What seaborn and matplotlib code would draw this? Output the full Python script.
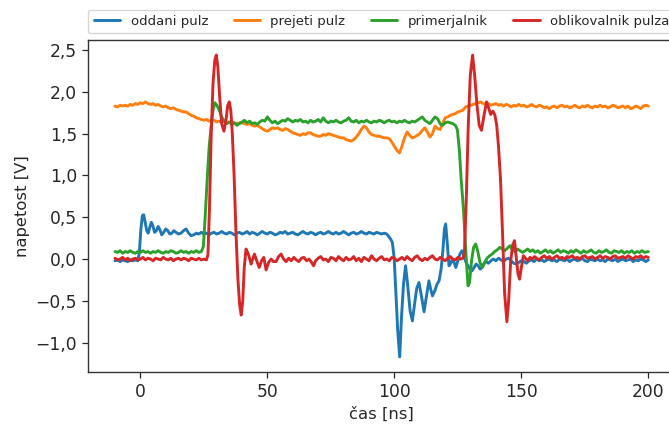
import matplotlib
matplotlib.use("Agg")
import matplotlib.pyplot as plt
import matplotlib.ticker as mticker
import pandas as pd
import seaborn as sns

# Oscilloscope traces: (time [ns], voltage [V])
oddani_pulz = [
    (-10, -0.02), (-9, -0.01), (-8, -0.03), (-7, -0.01), (-6, -0.02), (-5, -0.03), (-4, -0.01), (-3, -0.02), (-2, -0.01), (-1, -0.02),
    (-0.4, 0.08), (0.2, 0.36), (0.8, 0.52), (1.3, 0.53), (1.9, 0.44), (2.5, 0.34), (3.1, 0.31), (3.7, 0.38), (4.3, 0.44), (4.9, 0.40),
    (5.6, 0.32), (6.3, 0.34), (7.0, 0.39), (7.7, 0.35), (8.4, 0.29), (9.2, 0.32), (10.0, 0.36), (10.8, 0.34), (11.6, 0.30), (12.4, 0.31),
    (13.2, 0.34), (14, 0.32), (15, 0.30), (16, 0.31), (17, 0.34), (18, 0.36), (19, 0.31), (20, 0.28), (21, 0.29), (22, 0.31),
    (23, 0.30), (24, 0.32), (25, 0.30), (26, 0.31), (27, 0.29), (28, 0.31), (29, 0.32), (30, 0.30), (31, 0.31), (32, 0.33),
    (33, 0.31), (34, 0.30), (35, 0.32), (36, 0.31), (37, 0.29), (38, 0.31), (39, 0.32), (40, 0.30), (41, 0.31), (42, 0.33),
    (43, 0.30), (44, 0.32), (45, 0.31), (46, 0.29), (47, 0.31), (48, 0.33), (49, 0.31), (50, 0.30), (51, 0.32), (52, 0.31),
    (53, 0.29), (54, 0.30), (55, 0.32), (56, 0.31), (57, 0.33), (58, 0.30), (59, 0.31), (60, 0.32), (61, 0.30), (62, 0.29),
    (63, 0.31), (64, 0.33), (65, 0.31), (66, 0.30), (67, 0.32), (68, 0.31), (69, 0.29), (70, 0.31), (71, 0.32), (72, 0.30),
    (73, 0.31), (74, 0.33), (75, 0.31), (76, 0.30), (77, 0.32), (78, 0.30), (79, 0.31), (80, 0.33), (81, 0.31), (82, 0.29),
    (83, 0.31), (84, 0.32), (85, 0.30), (86, 0.31), (87, 0.33), (88, 0.31), (89, 0.30), (90, 0.32), (91, 0.31), (92, 0.30),
    (93, 0.32), (94, 0.31), (95, 0.30), (96, 0.31), (97, 0.30), (97.8, 0.27), (98.5, 0.24), (99.2, 0.20), (99.9, 0.02),
    (100.6, -0.40), (101.3, -0.85), (102.1, -1.17), (102.8, -0.70), (103.6, -0.30), (104.4, -0.08), (105.2, -0.30), (106.2, -0.62), (107.1, -0.74), (107.9, -0.55),
    (108.8, -0.35), (109.7, -0.28), (110.7, -0.45), (111.7, -0.63), (112.6, -0.45), (113.6, -0.26), (114.3, -0.36), (115.0, -0.44), (115.9, -0.38), (116.8, -0.30),
    (117.6, -0.26), (118.4, -0.12), (119.1, 0.10), (119.7, 0.36), (120.2, 0.42), (120.8, 0.20), (121.5, -0.08), (122.2, -0.05), (122.8, 0.00), (123.5, -0.04),
    (124.2, -0.10), (125.0, -0.02), (125.8, 0.06), (126.6, 0.10), (127.4, 0.04), (128.2, -0.04), (129.0, -0.08), (129.8, -0.12), (130.6, -0.14), (131.4, -0.10),
    (132.2, -0.06), (133.0, -0.08), (133.8, -0.12), (134.6, -0.10), (135.4, -0.05), (136.2, -0.03), (137, -0.05), (138, -0.02), (139, 0.00), (140, -0.02),
    (141, 0.01), (142, -0.01), (143, -0.03), (144, 0.00), (145, 0.01), (146, -0.02), (147, -0.05), (148, -0.06), (149, -0.04), (150, -0.02),
    (151, -0.03), (152, -0.05), (153, -0.02), (154, -0.01), (155, -0.03), (156, 0.00), (157, -0.02), (158, -0.01), (159, -0.03), (160, -0.01),
    (161, 0.00), (162, -0.02), (163, -0.01), (164, -0.03), (165, 0.00), (166, -0.01), (167, -0.02), (168, 0.00), (169, -0.03), (170, -0.01),
    (171, 0.00), (172, -0.02), (173, -0.01), (174, 0.01), (175, -0.02), (176, -0.03), (177, 0.00), (178, -0.01), (179, -0.02), (180, 0.00),
    (181, -0.02), (182, -0.01), (183, -0.03), (184, 0.00), (185, -0.01), (186, -0.02), (187, 0.00), (188, -0.03), (189, -0.01), (190, 0.00),
    (191, -0.02), (192, -0.01), (193, 0.00), (194, -0.03), (195, -0.01), (196, -0.02), (197, 0.00), (198, -0.01), (199, -0.03), (200, -0.01),
]

prejeti_pulz = [
    (-10, 1.83), (-9, 1.82), (-8, 1.84), (-7, 1.83), (-6, 1.84), (-5, 1.83), (-4, 1.85), (-3, 1.84), (-2, 1.86), (-1, 1.85),
    (0, 1.87), (1, 1.86), (2, 1.88), (3, 1.86), (4, 1.85), (5, 1.86), (6, 1.84), (7, 1.85), (8, 1.83), (9, 1.82),
    (10, 1.83), (11, 1.81), (12, 1.80), (13, 1.81), (14, 1.79), (15, 1.78), (16, 1.77), (17, 1.76), (18, 1.76), (19, 1.74),
    (20, 1.72), (21, 1.71), (22, 1.69), (23, 1.68), (24, 1.67), (25, 1.66), (26, 1.67), (27, 1.65), (28, 1.66), (29, 1.66),
    (30, 1.64), (31, 1.65), (32, 1.64), (33, 1.65), (34, 1.63), (35, 1.64), (36, 1.64), (37, 1.63), (38, 1.62), (39, 1.63),
    (40, 1.63), (41, 1.62), (42, 1.61), (43, 1.62), (44, 1.60), (45, 1.59), (46, 1.60), (47, 1.58), (48, 1.56), (49, 1.54),
    (50, 1.53), (51, 1.55), (52, 1.57), (53, 1.56), (54, 1.57), (55, 1.55), (56, 1.54), (57, 1.56), (58, 1.55), (59, 1.53),
    (60, 1.51), (61, 1.50), (62, 1.49), (63, 1.48), (64, 1.50), (65, 1.49), (66, 1.51), (67, 1.51), (68, 1.49), (69, 1.48),
    (70, 1.47), (71, 1.47), (72, 1.49), (73, 1.48), (74, 1.50), (75, 1.49), (76, 1.48), (77, 1.47), (78, 1.46), (79, 1.45),
    (80, 1.45), (81, 1.43), (82, 1.42), (83, 1.41), (84, 1.43), (85, 1.46), (86, 1.50), (87, 1.55), (88, 1.59), (89, 1.57),
    (90, 1.52), (91, 1.49), (92, 1.48), (93, 1.47), (94, 1.47), (95, 1.46), (96, 1.45), (97, 1.45), (98, 1.44), (99, 1.40),
    (100, 1.35), (101, 1.30), (102, 1.27), (103, 1.35), (104, 1.45), (105, 1.52), (106, 1.48), (107, 1.45), (108, 1.46), (109, 1.48),
    (110, 1.50), (111, 1.54), (112, 1.57), (113, 1.52), (114, 1.46), (115, 1.50), (116, 1.59), (117, 1.56), (118, 1.55), (119, 1.62),
    (120, 1.69), (121, 1.70), (122, 1.72), (123, 1.73), (124, 1.74), (125, 1.76), (126, 1.77), (127, 1.78), (128, 1.82), (129, 1.83),
    (130, 1.84), (131, 1.85), (132, 1.86), (133, 1.87), (134, 1.88), (135, 1.86), (136, 1.85), (137, 1.86), (138, 1.84), (139, 1.85),
    (140, 1.86), (141, 1.84), (142, 1.85), (143, 1.83), (144, 1.85), (145, 1.84), (146, 1.82), (147, 1.84), (148, 1.83), (149, 1.85),
    (150, 1.83), (151, 1.84), (152, 1.82), (153, 1.83), (154, 1.85), (155, 1.83), (156, 1.82), (157, 1.84), (158, 1.83), (159, 1.81),
    (160, 1.82), (161, 1.80), (162, 1.82), (163, 1.83), (164, 1.81), (165, 1.83), (166, 1.84), (167, 1.82), (168, 1.83), (169, 1.81),
    (170, 1.82), (171, 1.84), (172, 1.82), (173, 1.81), (174, 1.83), (175, 1.82), (176, 1.84), (177, 1.82), (178, 1.81), (179, 1.83),
    (180, 1.82), (181, 1.84), (182, 1.82), (183, 1.83), (184, 1.81), (185, 1.82), (186, 1.84), (187, 1.83), (188, 1.81), (189, 1.82),
    (190, 1.83), (191, 1.81), (192, 1.83), (193, 1.80), (194, 1.81), (195, 1.83), (196, 1.82), (197, 1.80), (198, 1.83), (199, 1.84),
    (200, 1.83),
]

primerjalnik = [
    (-10, 0.09), (-9, 0.08), (-8, 0.10), (-7, 0.07), (-6, 0.09), (-5, 0.08), (-4, 0.10), (-3, 0.08), (-2, 0.07), (-1, 0.09),
    (0, 0.08), (1, 0.10), (2, 0.08), (3, 0.09), (4, 0.07), (5, 0.09), (6, 0.08), (7, 0.10), (8, 0.08), (9, 0.07),
    (10, 0.09), (11, 0.08), (12, 0.10), (13, 0.09), (14, 0.07), (15, 0.08), (16, 0.10), (17, 0.08), (18, 0.09), (19, 0.07),
    (20, 0.09), (21, 0.08), (22, 0.10), (23, 0.08), (24, 0.09),
    (24.8, 0.15), (25.5, 0.50), (26.3, 0.95), (27.1, 1.35), (27.9, 1.60), (28.6, 1.78), (29.3, 1.87), (30.1, 1.84), (31.1, 1.78), (32.0, 1.70),
    (33, 1.65), (34, 1.62), (35, 1.64), (36, 1.61), (37, 1.63), (38, 1.60), (39, 1.62), (40, 1.64), (41, 1.66), (42, 1.63),
    (43, 1.65), (44, 1.62), (45, 1.63), (46, 1.61), (47, 1.64), (48, 1.66), (49, 1.65), (50, 1.70), (51, 1.66), (52, 1.63),
    (53, 1.65), (54, 1.62), (55, 1.64), (56, 1.66), (57, 1.65), (58, 1.68), (59, 1.66), (60, 1.64), (61, 1.66), (62, 1.65),
    (63, 1.67), (64, 1.64), (65, 1.65), (66, 1.63), (67, 1.66), (68, 1.64), (69, 1.65), (70, 1.67), (71, 1.64), (72, 1.69),
    (73, 1.65), (74, 1.63), (75, 1.65), (76, 1.64), (77, 1.66), (78, 1.64), (79, 1.63), (80, 1.65), (81, 1.66), (82, 1.69),
    (83, 1.65), (84, 1.64), (85, 1.66), (86, 1.63), (87, 1.65), (88, 1.64), (89, 1.66), (90, 1.64), (91, 1.63), (92, 1.65),
    (93, 1.64), (94, 1.66), (95, 1.65), (96, 1.63), (97, 1.65), (98, 1.66), (99, 1.64), (100, 1.65), (101, 1.63), (102, 1.65),
    (103, 1.64), (104, 1.66), (105, 1.64), (106, 1.63), (107, 1.65), (108, 1.64), (109, 1.66), (110, 1.68), (111, 1.70), (112, 1.66),
    (113, 1.64), (114, 1.62), (115, 1.66), (116, 1.70), (117, 1.68), (118, 1.62), (119, 1.60), (120, 1.63), (121, 1.64), (122, 1.63),
    (123, 1.62), (124, 1.60), (124.8, 1.55), (125.6, 1.30), (126.3, 0.95), (127.2, 0.60), (128.1, 0.10), (129.0, -0.32), (129.6, -0.28), (130.4, -0.02),
    (131.2, 0.14), (132.0, 0.18), (132.8, 0.10), (133.7, -0.04), (134.6, -0.10), (135.5, -0.04), (136.5, 0.01), (137.5, 0.04), (138.5, 0.06), (139.5, 0.09),
    (140.5, 0.11), (141.5, 0.14), (142.5, 0.12), (143.5, 0.10), (144.5, 0.13), (145.5, 0.16), (146.5, 0.11), (147.5, 0.09), (148.5, 0.12), (149.5, 0.10),
    (150.5, 0.08), (151.5, 0.10), (152.5, 0.12), (153.5, 0.09), (154.5, 0.11), (155.5, 0.08), (156.5, 0.10), (157.5, 0.07), (158.5, 0.09), (159.5, 0.11),
    (160.5, 0.08), (161.5, 0.10), (162.5, 0.07), (163.5, 0.09), (164.5, 0.11), (165.5, 0.08), (166.5, 0.10), (167.5, 0.09), (168.5, 0.07), (169.5, 0.10),
    (170.5, 0.08), (171.5, 0.11), (172.5, 0.09), (173.5, 0.07), (174.5, 0.10), (175.5, 0.08), (176.5, 0.09), (177.5, 0.11), (178.5, 0.08), (179.5, 0.07),
    (180.5, 0.10), (181.5, 0.08), (182.5, 0.09), (183.5, 0.11), (184.5, 0.08), (185.5, 0.07), (186.5, 0.10), (187.5, 0.09), (188.5, 0.08), (189.5, 0.10),
    (190.5, 0.07), (191.5, 0.09), (192.5, 0.08), (193.5, 0.10), (194.5, 0.07), (195.5, 0.09), (196.5, 0.08), (197.5, 0.10), (198.5, 0.08), (200, 0.09),
]

oblikovalnik_pulza = [
    (-10, 0.01), (-9, -0.01), (-8, 0.00), (-7, 0.02), (-6, -0.01), (-5, 0.01), (-4, -0.02), (-3, 0.00), (-2, 0.01), (-1, -0.01),
    (0, 0.00), (1, 0.02), (2, -0.01), (3, 0.01), (4, 0.00), (5, -0.02), (6, 0.01), (7, 0.00), (8, -0.01), (9, 0.02),
    (10, 0.00), (11, -0.01), (12, 0.01), (13, -0.02), (14, 0.00), (15, 0.01), (16, -0.01), (17, 0.01), (18, 0.00), (19, -0.02),
    (20, 0.01), (21, 0.00), (22, -0.01), (23, 0.01), (24, -0.01), (25, 0.00), (26, -0.01),
    (26.6, 0.05), (27.2, 0.60), (27.9, 1.50), (28.6, 2.10), (29.3, 2.38), (29.9, 2.44), (30.5, 2.30), (31.2, 1.95), (32.0, 1.62), (32.9, 1.53),
    (33.7, 1.66), (34.4, 1.84), (35.0, 1.88), (35.6, 1.78), (36.2, 1.50), (36.9, 1.00), (37.6, 0.35), (38.4, -0.24), (39.1, -0.55), (39.7, -0.67),
    (40.3, -0.50), (40.9, -0.10), (41.6, 0.12), (42.5, 0.06), (43.6, -0.06), (44.9, 0.06), (45.8, -0.02), (46.8, -0.10), (47.7, -0.02), (48.6, 0.02),
    (49.5, -0.13), (50.5, -0.04), (51.5, 0.00), (52.4, -0.03), (53.4, -0.03), (54.4, 0.03), (55.4, 0.06), (56.4, 0.00), (57.4, -0.03), (58.4, 0.01),
    (59.4, -0.02), (60.4, 0.02), (61.4, -0.01), (62.4, -0.03), (63.4, 0.01), (64.4, 0.02), (65.4, -0.02), (66.4, 0.00), (67.4, -0.04), (68.2, -0.08),
    (69, -0.02), (70, 0.01), (71, 0.03), (72, -0.01), (73, 0.00), (74, -0.03), (75, 0.02), (76, 0.01), (77, -0.02), (78, 0.03),
    (79, 0.00), (80, -0.02), (81, 0.02), (82, -0.01), (83, 0.00), (84, 0.03), (85, -0.02), (86, 0.01), (87, -0.03), (88, 0.02),
    (89, 0.00), (90, -0.02), (91, 0.04), (92, 0.00), (93, -0.02), (94, 0.01), (95, 0.03), (96, -0.01), (97, 0.00), (98, -0.02),
    (99, 0.02), (100, 0.01), (101, -0.02), (102, 0.00), (103, 0.02), (104, -0.01), (105, 0.03), (106, 0.00), (107, -0.02), (108, 0.02),
    (109, 0.04), (110, 0.00), (111, -0.02), (112, 0.01), (113, -0.01), (114, 0.02), (115, 0.04), (116, 0.00), (117, -0.01), (118, 0.02),
    (119, 0.00), (120, -0.02), (121, 0.01), (122, 0.03), (123, 0.00), (124, -0.01), (125, 0.02), (126, 0.00), (127, 0.01),
    (127.6, 0.08), (128.3, 0.70), (129.1, 1.60), (129.9, 2.20), (130.8, 2.44), (131.6, 2.20), (132.5, 1.85), (133.4, 1.60), (134.3, 1.54), (135.3, 1.72),
    (136.3, 1.88), (137.2, 1.80), (137.9, 1.73), (138.8, 1.77), (139.6, 1.72), (140.3, 1.60), (141.0, 1.35), (141.8, 0.95), (142.6, 0.30), (143.4, -0.40),
    (144.3, -0.75), (145.0, -0.50), (145.8, -0.02), (146.6, 0.17), (147.3, 0.22), (148.0, 0.02), (148.7, -0.18), (149.3, -0.24), (150.0, -0.10), (150.8, 0.04),
    (151.6, 0.01), (152.5, -0.02), (153.4, 0.02), (154.3, 0.00), (155.2, 0.03), (156, 0.01), (157, -0.01), (158, 0.02), (159, 0.04), (160, 0.01),
    (161, 0.03), (162, 0.00), (163, 0.02), (164, 0.04), (165, 0.01), (166, 0.02), (167, 0.00), (168, 0.03), (169, 0.02), (170, 0.04),
    (171, 0.01), (172, 0.02), (173, 0.00), (174, 0.03), (175, 0.04), (176, 0.01), (177, 0.02), (178, 0.03), (179, 0.00), (180, 0.02),
    (181, 0.04), (182, 0.01), (183, 0.03), (184, 0.02), (185, 0.00), (186, 0.03), (187, 0.04), (188, 0.01), (189, 0.02), (190, 0.03),
    (191, 0.01), (192, 0.04), (193, 0.02), (194, 0.00), (195, 0.03), (196, 0.02), (197, 0.04), (198, 0.01), (199, 0.03), (200, 0.02),
]

series_names = ["oddani pulz", "prejeti pulz", "primerjalnik", "oblikovalnik pulza"]
series_data = [oddani_pulz, prejeti_pulz, primerjalnik, oblikovalnik_pulza]
colors = ["#1f77b4", "#ff7f0e", "#2ca02c", "#d62728"]

rows = []
for name, pts in zip(series_names, series_data):
    for t, v in pts:
        rows.append({"t": t, "v": v, "signal": name})
df = pd.DataFrame(rows)

sns.set_style("ticks")
plt.rcParams["font.family"] = ["DejaVu Sans"]

fig = plt.figure(figsize=(6.69, 4.26), dpi=100)
ax = fig.add_axes([0.132, 0.1268, 0.877, 0.7793])

sns.lineplot(
    data=df, x="t", y="v", hue="signal", hue_order=series_names,
    palette=dict(zip(series_names, colors)), estimator=None, sort=False,
    linewidth=2.1, legend=False, ax=ax,
)

ax.set_xlabel("čas [ns]", fontsize=11.8)
ax.set_ylabel("napetost [V]", fontsize=11.8)
ax.xaxis.set_major_locator(mticker.MultipleLocator(50))
ax.yaxis.set_major_locator(mticker.MultipleLocator(0.5))


def comma_fmt(val, pos):
    s = f"{val:.1f}".replace(".", ",")
    if val < 0:
        s = "\u2212" + s.lstrip("-")
    return s


def int_fmt(val, pos):
    return f"{val:.0f}"


ax.yaxis.set_major_formatter(mticker.FuncFormatter(comma_fmt))
ax.xaxis.set_major_formatter(mticker.FuncFormatter(int_fmt))
ax.tick_params(labelsize=12.3, length=4.5, width=0.9)
for sp in ax.spines.values():
    sp.set_linewidth(1.0)
    sp.set_color("#333333")

ax.legend(
    handles=ax.lines[:4], labels=series_names,
    bbox_to_anchor=(0.0, 1.02, 1.0, 0.102), loc="lower left",
    ncol=4, mode="expand", borderaxespad=0.0, fontsize=9.5, frameon=True,
)

fig.savefig("out.png", dpi=100)
